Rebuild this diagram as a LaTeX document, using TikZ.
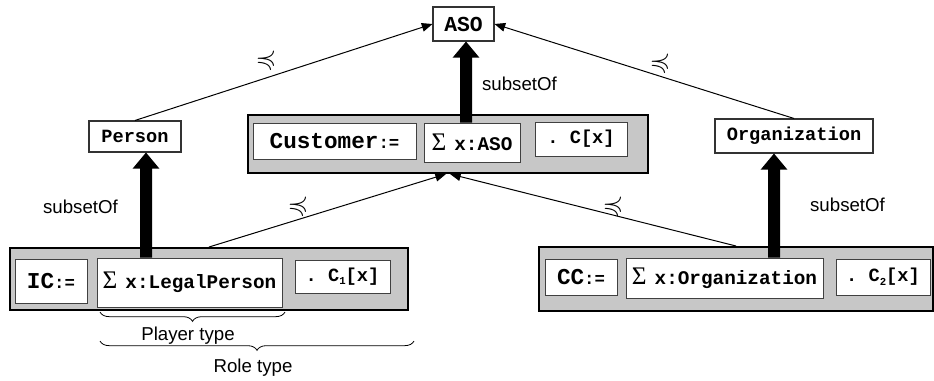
\documentclass[tikz,border=0pt]{standalone}
\usepackage{amssymb}
\usepackage{fontspec}
\setmainfont{Liberation Sans}
\setmonofont{Liberation Mono}
\newfontfamily\sigfont{Liberation Serif}
\usetikzlibrary{arrows.meta,decorations.pathreplacing,calc}

\newcommand\fs[1]{\fontsize{#1}{#1}\selectfont}
\newcommand\defn[1]{{\fs{17}#1}{\fs{13}:=}}
\newcommand\sumof[1]{{\sigfont\mdseries\fs{19}Σ} {\fs{14.5}x:#1}}
\newcommand\cond[1]{{\fs{14}.\ C\raisebox{-2.5pt}{\fs{8}#1}[x]}}
% thick block arrow from #1 up to the tip at #2
\newcommand\subsetarrow[2]{%
  \fill ($(#1)+(-4.5pt,0)$) -- ($(#2)+(-4.5pt,-12pt)$) -- ($(#2)+(-10pt,-12pt)$)
    -- (#2) -- ($(#2)+(10pt,-12pt)$) -- ($(#2)+(4.5pt,-12pt)$)
    -- ($(#1)+(4.5pt,0)$) -- cycle;}

\begin{document}
\begin{tikzpicture}[x=0.75pt,y=-0.75pt,
  sz/.style 2 args={minimum width=#1*0.75pt, minimum height=#2*0.75pt},
  typebox/.style={draw=black!80, line width=0.8pt, fill=white, inner sep=0pt,
    font=\ttfamily\bfseries\fs{14}},
  frame/.style={draw=black, line width=1.5pt, fill=black!22, inner sep=0pt},
  part/.style={draw=black!75, line width=0.7pt, fill=white, inner sep=0pt,
    font=\ttfamily\bfseries},
  isa/.style={line width=0.75pt, -{Triangle[length=8pt,width=6.5pt]}},
  lbl/.style={font=\fs{14}, inner sep=0pt},
  prec/.style={font=\fs{20}, inner sep=0pt},
  brc/.style={decorate, decoration={brace, mirror, amplitude=7pt}, line width=0.6pt}
]
\useasboundingbox (0,0) rectangle (934,380);

% top level types
\node[typebox, sz={61}{34}, font=\ttfamily\bfseries\fs{16}] (aso) at (463.5,24) {ASO};
\node[typebox, sz={92}{31}] (person) at (135,136.5) {Person};
\node[typebox, sz={158}{34}] (org) at (794,136) {Organization};

% Customer role definition
\node[frame, sz={400}{58}] (cf) at (448,144) {};
\node[part, sz={163}{36}] (cdef) at (334.5,141) {\defn{Customer}};
\node[part, sz={96}{39}] (csum) at (472,142.5) {\sumof{ASO}};
\node[part, sz={92}{34}] (ccond) at (581,139) {\cond{}};

% IC role definition
\node[frame, sz={398}{62}] (icf) at (209,279) {};
\node[part, sz={72}{44}] (icdef) at (51,281) {\defn{IC}};
\node[part, sz={185}{49}] (icsum) at (189.5,282.5) {\sumof{LegalPerson}};
\node[part, sz={95}{33}] (iccond) at (342.5,276.5) {\cond{1}};

% CC role definition
\node[frame, sz={394}{64}] (ccf) at (736,279) {};
\node[part, sz={72}{36}] (ccdef) at (581,277) {\defn{CC}};
\node[part, sz={197}{40}] (ccsum) at (724.5,278) {\sumof{Organization}};
\node[part, sz={94}{36}] (cccond) at (883,277) {\cond{2}};

% x positions of the subset arrows
\coordinate (xp) at (146,0);
\coordinate (xa) at (466,0);
\coordinate (xo) at (774,0);
\coordinate (pfrom) at (icsum.north -| xp);
\coordinate (pto) at (person.south -| xp);
\coordinate (afrom) at (csum.north -| xa);
\coordinate (ato) at (aso.south -| xa);
\coordinate (ofrom) at (ccsum.north -| xo);
\coordinate (oto) at (org.south -| xo);

% subset arrows
\subsetarrow{pfrom}{pto}
\subsetarrow{afrom}{ato}
\subsetarrow{ofrom}{oto}
\node[lbl] (s1) at (80.5,207) {subsetOf};
\node[lbl] (s2) at (519.5,84) {subsetOf};
\node[lbl] (s3) at (847.5,205) {subsetOf};

% specialisation arrows
\draw[isa] (person.north) -- (aso.west);
\draw[isa] (org.north) -- (aso.east);
\draw[isa] (icf.north) -- ($(cf.south)+(-2,0)$);
\draw[isa] (ccf.north) -- ($(cf.south)+(2,0)$);
\node[prec] (p1) at (266,60) {$\preccurlyeq$};
\node[prec] (p2) at (660,63) {$\preccurlyeq$};
\node[prec] (p3) at (298,206) {$\preccurlyeq$};
\node[prec] (p4) at (613,206) {$\preccurlyeq$};

% braces below IC
\coordinate (b1l) at (100,312);
\coordinate (b1r) at (285,312);
\coordinate (b2l) at (100,341);
\coordinate (b2r) at (414,341);
\draw[brc] (b1l) -- (b1r);
\draw[brc] (b2l) -- (b2r);
\node[lbl] (pt) at (188,336) {Player type};
\node[lbl] (rt) at (253,368) {Role type};
\end{tikzpicture}
\end{document}
